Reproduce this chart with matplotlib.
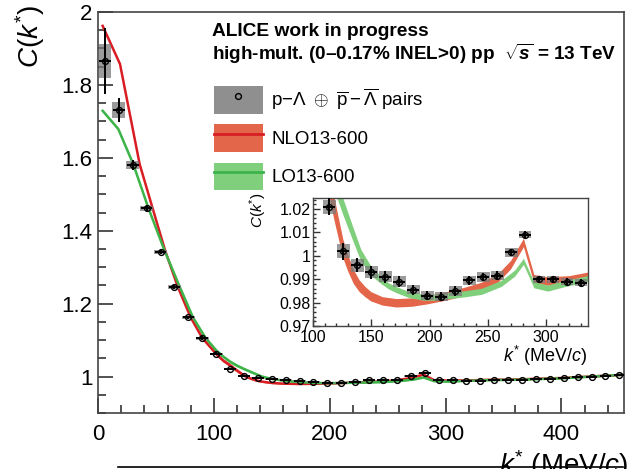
import numpy as np
import matplotlib
matplotlib.use("Agg")
import matplotlib.pyplot as plt
from matplotlib.patches import Patch
from matplotlib.lines import Line2D
from matplotlib.legend_handler import HandlerTuple
from matplotlib.ticker import MultipleLocator

plt.rcParams['font.family'] = ['Liberation Sans', 'DejaVu Sans']
plt.rcParams['mathtext.fontset'] = 'custom'
plt.rcParams['mathtext.rm'] = 'Liberation Sans'
plt.rcParams['mathtext.it'] = 'Liberation Sans:italic'
plt.rcParams['mathtext.bf'] = 'Liberation Sans:bold'
plt.rcParams['mathtext.bfit'] = 'Liberation Sans:bold:italic'

# data points p-Lambda (k* centres in MeV/c)
data_k = [6, 18, 30, 42, 54, 66, 78, 90, 102, 114,
          126, 138, 150, 162, 174, 186, 198, 210, 222, 234,
          246, 258, 270, 282, 294, 306, 318, 330, 342, 354,
          366, 378, 390, 402, 414, 426, 438, 450]
data_c = [1.865, 1.731, 1.580, 1.461, 1.342, 1.245, 1.162, 1.105, 1.062, 1.021,
          1.002, 0.996, 0.993, 0.991, 0.989, 0.9855, 0.983, 0.9825, 0.985, 0.9895,
          0.991, 0.9915, 1.0015, 1.009, 0.990, 0.990, 0.989, 0.9885, 0.9895, 0.990,
          0.991, 0.992, 0.994, 0.996, 0.998, 1.000, 1.002, 1.004]
data_stat = [0.09, 0.033, 0.013, 0.009, 0.007, 0.006, 0.005, 0.005, 0.004, 0.0036,
             0.0036, 0.003, 0.0028, 0.0026, 0.0024, 0.0022, 0.002, 0.002, 0.002, 0.0018,
             0.0018, 0.0018, 0.0016, 0.0014, 0.0015, 0.0015, 0.0014, 0.0014, 0.0014, 0.0014,
             0.0014, 0.0014, 0.0014, 0.0014, 0.0014, 0.0014, 0.0014, 0.0014]
data_sys = [0.047, 0.022, 0.012, 0.008, 0.006, 0.005, 0.004, 0.004, 0.0035, 0.003,
            0.003, 0.0028, 0.0026, 0.0024, 0.0022, 0.002, 0.002, 0.002, 0.002, 0.002,
            0.002, 0.002, 0.0018, 0.0014, 0.0015, 0.0015, 0.0014, 0.0014, 0.0013, 0.0013,
            0.0013, 0.0013, 0.0013, 0.0013, 0.0013, 0.0013, 0.0013, 0.0013]

# NLO13-600
nlo_k = [4, 19, 36, 47, 58, 69, 80, 90, 102, 108,
         114, 118, 122, 126, 130, 135, 140, 145, 150, 160,
         172, 185, 198, 215, 230, 245, 259, 270, 281, 290,
         302, 320, 336, 360, 400, 454]
nlo_c = [1.962, 1.857, 1.582, 1.463, 1.345, 1.245, 1.162, 1.106, 1.062, 1.044,
         1.031, 1.021, 1.012, 1.003, 0.997, 0.991, 0.987, 0.9845, 0.9825, 0.9805,
         0.9797, 0.9800, 0.9810, 0.9827, 0.9845, 0.9867, 0.9903, 0.9960, 1.0055, 0.9900,
         0.9890, 0.9895, 0.9910, 0.9920, 0.9960, 1.0050]
nlo_w = [0.004] * 9 + [0.0045, 0.005, 0.005, 0.0045, 0.004, 0.0035, 0.003, 0.0025, 0.0022, 0.002] + [0.0018] * 17

# LO13-600
lo_k = [4, 17.5, 30.5, 43.4, 57, 70.7, 82, 92.8, 102, 108,
        114, 120, 126, 134, 141.5, 150, 157.5, 165, 172, 183,
        195, 205, 215, 230, 245, 262, 273.5, 281, 290, 302,
        317, 336, 360, 400, 454]
lo_c = [1.729, 1.679, 1.582, 1.463, 1.349, 1.245, 1.162, 1.106, 1.072, 1.055,
        1.041, 1.030, 1.021, 1.010, 1.000, 0.9935, 0.990, 0.987, 0.9853, 0.9832,
        0.9821, 0.9821, 0.9827, 0.9835, 0.9846, 0.9880, 0.9924, 0.9974, 0.9874, 0.9860,
        0.9880, 0.9900, 0.9910, 0.9950, 1.0050]
lo_w = [0.004] * 9 + [0.004, 0.004, 0.004, 0.0035, 0.003, 0.0025, 0.002, 0.0016] + [0.0013] * 18

red_line = '#d81e24'
red_band = '#e4664a'
green_line = '#3cb44a'
green_band = '#80cf7c'
box_col = '#7a7a7a'

k = np.array(data_k, float)
c = np.array(data_c)
stat = np.array(data_stat)
sys_ = np.array(data_sys)


def draw(ax, main):
    for kk, cc, ww, bc, lc in [(nlo_k, nlo_c, nlo_w, red_band, red_line),
                                (lo_k, lo_c, lo_w, green_band, green_line)]:
        kk = np.array(kk)
        cc = np.array(cc)
        ww = np.array(ww)
        ax.fill_between(kk, cc - ww, cc + ww, color=bc, lw=0, zorder=2)
        if main:
            ax.plot(kk, cc, color=lc, lw=1.8, zorder=2.5)
    ax.bar(k, 2 * sys_, bottom=c - sys_, width=11, color=box_col, alpha=0.75,
           lw=0, zorder=3)
    ax.errorbar(k, c, yerr=stat, xerr=5, fmt='o', ms=4.2, mfc='none', mec='black',
                mew=1.0, ecolor='black', elinewidth=1.4, capsize=0, zorder=4)


fig = plt.figure(figsize=(6.29, 4.69), dpi=100)
ax = fig.add_axes([98 / 629, 1 - 413 / 469, 526 / 629, 401 / 469])
draw(ax, True)
ax.set_xlim(0, 454)
ax.set_ylim(0.9, 2.0)
ax.xaxis.set_major_locator(MultipleLocator(100))
ax.xaxis.set_minor_locator(MultipleLocator(20))
ax.yaxis.set_major_locator(MultipleLocator(0.2))
ax.yaxis.set_minor_locator(MultipleLocator(0.05))
ax.yaxis.set_major_formatter(plt.FuncFormatter(lambda v, p: f"{v:g}"))
ax.tick_params(which='both', direction='in', top=False, right=False,
               labelsize=16, color='#333333', width=1.2)
ax.tick_params(which='major', length=11)
ax.tick_params(which='minor', length=5.5)
ax.tick_params(axis='x', pad=8)
ax.tick_params(axis='y', pad=4)
for s in ax.spines.values():
    s.set_color('#444444')
    s.set_linewidth(1.2)

fig.text(30 / 629, 1 - 5 / 469, r'$C(k^{*})$', rotation=90, ha='center', va='top',
         fontsize=20)
fig.text(628 / 629, 1 - 448 / 469, r'$k^{*}$ (MeV/$c$)', ha='right', va='top',
         fontsize=20)

fig.text(212 / 629, 1 - 36.5 / 469, 'ALICE work in progress', fontsize=13.8,
         fontweight='bold', va='baseline')
fig.text(212 / 629, 1 - 60 / 469,
         r'high-mult. (0–0.17% INEL>0) pp  $\sqrt{\mathbfit{s}}$ = 13 TeV',
         fontsize=13.6, fontweight='bold', va='baseline')

h_data = (Patch(facecolor='#8f8f8f', edgecolor='none'),
          Line2D([], [], marker='o', ms=4.2, mfc='none', mec='black', ls='none'))
h_nlo = (Patch(facecolor=red_band, edgecolor='none'),
         Line2D([], [], color=red_line, lw=2))
h_lo = (Patch(facecolor=green_band, edgecolor='none'),
        Line2D([], [], color=green_line, lw=2))
ax.legend([h_data, h_nlo, h_lo],
          [r'p$-\Lambda\ \oplus\ \overline{\mathrm{p}}-\overline{\Lambda}$ pairs',
           'NLO13-600', 'LO13-600'],
          handler_map={tuple: HandlerTuple(ndivide=1)},
          loc='upper left', bbox_to_anchor=(0.2205, 0.8145), frameon=False,
          fontsize=13.5, handlelength=2.6, handleheight=1.9, labelspacing=0.55,
          handletextpad=0.45, borderpad=0, borderaxespad=0)

# inset
axi = fig.add_axes([313 / 629, 1 - 326 / 469, 275 / 629, 128 / 469])
draw(axi, False)
axi.set_xlim(100, 336)
axi.set_ylim(0.97, 1.0247)
axi.xaxis.set_major_locator(MultipleLocator(50))
axi.xaxis.set_minor_locator(MultipleLocator(10))
axi.yaxis.set_major_locator(MultipleLocator(0.01))
axi.yaxis.set_minor_locator(MultipleLocator(0.002))
axi.yaxis.set_major_formatter(plt.FuncFormatter(lambda v, p: f"{v:g}"))
axi.tick_params(which='both', direction='in', top=False, right=False,
                labelsize=11.5, color='#333333', width=1.0)
axi.tick_params(which='major', length=5)
axi.tick_params(which='minor', length=2.5)
axi.tick_params(axis='x', pad=3)
axi.tick_params(axis='y', pad=1.5)
for s in axi.spines.values():
    s.set_color('#444444')
    s.set_linewidth(1.0)
fig.text(258 / 629, 1 - 192 / 469, r'$C(k^{*})$', rotation=90, ha='center', va='top',
         fontsize=11)
fig.text(588 / 629, 1 - 344 / 469, r'$k^{*}$ (MeV/$c$)', ha='right', va='top',
         fontsize=13)

# edge of the next panel, cropped at the bottom
fig.add_artist(Line2D([118 / 629, 623 / 629], [1 - 467 / 469, 1 - 467 / 469],
                      color='black', lw=1.2))

fig.savefig('out.png', dpi=100)
